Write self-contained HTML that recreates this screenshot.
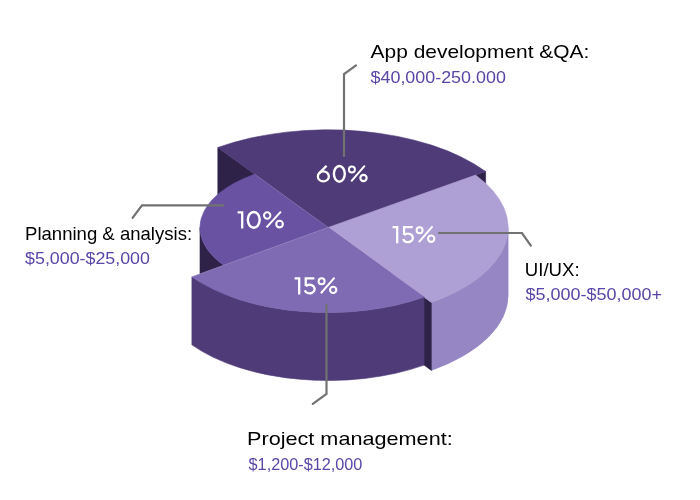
<!DOCTYPE html>
<html><head><meta charset="utf-8"><style>
html,body{margin:0;padding:0;background:#fff;}
body{width:700px;height:500px;overflow:hidden;}
svg{display:block;font-family:"Liberation Sans", sans-serif;will-change:transform;}
</style></head><body>
<svg width="700" height="500" viewBox="0 0 700 500">
<path d="M328.10,227.50 L217.80,147.48 L217.80,215.48 L328.10,295.50 Z" fill="#2e2248" stroke="#2e2248" stroke-width="0.6" stroke-linejoin="round"/>
<path d="M328.10,227.50 L485.62,171.47 L485.62,239.47 L328.10,295.50 Z" fill="#2e2248" stroke="#2e2248" stroke-width="0.6" stroke-linejoin="round"/>
<path d="M328.10,227.50 L217.80,147.48 A192.30,97.69 0 0 1 485.62,171.47 Z" fill="#4f3b78" stroke="#4f3b78" stroke-width="0.6" stroke-linejoin="round"/>
<path d="M229.97,269.33 A128.10,65.07 0 0 1 200.00,227.50 L200.00,295.50 A128.10,65.07 0 0 0 229.97,337.33 Z" fill="#2e2248" stroke="#2e2248" stroke-width="0.6" stroke-linejoin="round"/>
<path d="M328.10,227.50 L229.97,269.33 A128.10,65.07 0 0 1 254.62,174.19 Z" fill="#6a52a3" stroke="#6a52a3" stroke-width="0.6" stroke-linejoin="round"/>
<path d="M508.10,227.50 A180.00,91.44 0 0 1 431.34,302.40 L431.34,370.40 A180.00,91.44 0 0 0 508.10,295.50 Z" fill="#9687c4" stroke="#9687c4" stroke-width="0.6" stroke-linejoin="round"/>
<path d="M422.34,295.87 L431.34,302.40 L431.34,370.40 L422.34,363.87 Z" fill="#2e2248" stroke="#2e2248" stroke-width="0.6" stroke-linejoin="round"/>
<path d="M328.10,227.50 L475.55,175.05 A180.00,91.44 0 0 1 431.34,302.40 Z" fill="#aea0d4" stroke="#aea0d4" stroke-width="0.6" stroke-linejoin="round"/>
<path d="M424.06,297.12 A167.30,84.99 0 0 1 191.90,276.85 L191.90,344.85 A167.30,84.99 0 0 0 424.06,365.12 Z" fill="#4f3b78" stroke="#4f3b78" stroke-width="0.6" stroke-linejoin="round"/>
<path d="M328.10,227.50 L424.06,297.12 A167.30,84.99 0 0 1 191.90,276.85 Z" fill="#7f6ab4" stroke="#7f6ab4" stroke-width="0.6" stroke-linejoin="round"/>
<path d="M328.10,227.50 L254.62,174.19 M328.10,227.50 L191.90,276.85" stroke="#fff" stroke-opacity="0.22" stroke-width="0.8" fill="none"/>
<polyline points="344,156 344,74 356,65.4" fill="none" stroke="#727272" stroke-width="2.2" stroke-linejoin="miter" stroke-linecap="round"/>
<polyline points="223.5,205.3 142,205.3 132.6,217.8" fill="none" stroke="#727272" stroke-width="2.2" stroke-linejoin="miter" stroke-linecap="round"/>
<polyline points="439,233 522,233 530.8,245.6" fill="none" stroke="#727272" stroke-width="2.2" stroke-linejoin="miter" stroke-linecap="round"/>
<polyline points="326.5,305 326.5,394 312.8,403.9" fill="none" stroke="#727272" stroke-width="2.2" stroke-linejoin="miter" stroke-linecap="round"/>
<text id="app" x="370.62" y="58" font-size="19" fill="#000" textLength="218.74" lengthAdjust="spacingAndGlyphs">App development &amp;QA:</text>
<text id="p1" x="370.53" y="83" font-size="16" fill="#5b45a6" textLength="135.35" lengthAdjust="spacingAndGlyphs">$40,000-250.000</text>
<text id="plan" x="25.01" y="239.5" font-size="19" fill="#000" textLength="167.10" lengthAdjust="spacingAndGlyphs">Planning &amp; analysis:</text>
<text id="p2" x="25.10" y="264" font-size="16" fill="#5b45a6" textLength="124.79" lengthAdjust="spacingAndGlyphs">$5,000-$25,000</text>
<text id="ui" x="524.77" y="275.5" font-size="19" fill="#000" textLength="54.82" lengthAdjust="spacingAndGlyphs">UI/UX:</text>
<text id="p3" x="525.57" y="300" font-size="16" fill="#5b45a6" textLength="136.33" lengthAdjust="spacingAndGlyphs">$5,000-$50,000+</text>
<text id="proj" x="247.00" y="444.5" font-size="19" fill="#000" textLength="205.72" lengthAdjust="spacingAndGlyphs">Project management:</text>
<text id="p4" x="248.59" y="469.5" font-size="16" fill="#5b45a6" textLength="113.81" lengthAdjust="spacingAndGlyphs">$1,200-$12,000</text>
<g fill="none" stroke="#fff"><ellipse cx="323.35" cy="176.45" rx="5.5" ry="5.0" stroke-width="2.3"/><path d="M319.28,173.08 L326.60,165.70" stroke-width="2.3"/><ellipse cx="339.35" cy="173.85" rx="5.45" ry="7.85" stroke-width="2.4"/><circle cx="351.90" cy="169.45" r="3.00" stroke-width="2.0"/><circle cx="363.50" cy="178.00" r="3.15" stroke-width="2.1"/><path d="M364.80,165.65 L351.20,181.35" stroke-width="2.0"/><path d="M237.60,212.45 H242.20 V228.60" stroke-width="2.3" stroke-linejoin="miter"/><ellipse cx="253.75" cy="219.85" rx="5.95" ry="7.85" stroke-width="2.4"/><circle cx="267.18" cy="215.45" r="3.18" stroke-width="2.0"/><circle cx="279.54" cy="224.06" r="3.34" stroke-width="2.1"/><path d="M280.91,211.65 L266.50,227.35" stroke-width="2.0"/><path d="M392.60,227.15 H397.20 V243.30" stroke-width="2.3" stroke-linejoin="miter"/><path d="M412.70,227.15 H404.05 V234.70" stroke-width="2.3" stroke-linejoin="miter"/><path d="M404.07,235.09 A5.0,4.3 0 1 1 403.12,239.11" stroke-width="2.3"/><circle cx="419.60" cy="230.15" r="3.00" stroke-width="2.0"/><circle cx="431.20" cy="238.70" r="3.15" stroke-width="2.1"/><path d="M432.50,226.35 L418.90,242.05" stroke-width="2.0"/><path d="M294.60,278.35 H299.20 V294.50" stroke-width="2.3" stroke-linejoin="miter"/><path d="M314.40,278.35 H305.75 V285.90" stroke-width="2.3" stroke-linejoin="miter"/><path d="M305.77,286.29 A5.0,4.3 0 1 1 304.82,290.31" stroke-width="2.3"/><circle cx="321.60" cy="281.35" r="3.00" stroke-width="2.0"/><circle cx="333.20" cy="289.90" r="3.15" stroke-width="2.1"/><path d="M334.50,277.55 L320.90,293.25" stroke-width="2.0"/></g>
</svg>
</body></html>
